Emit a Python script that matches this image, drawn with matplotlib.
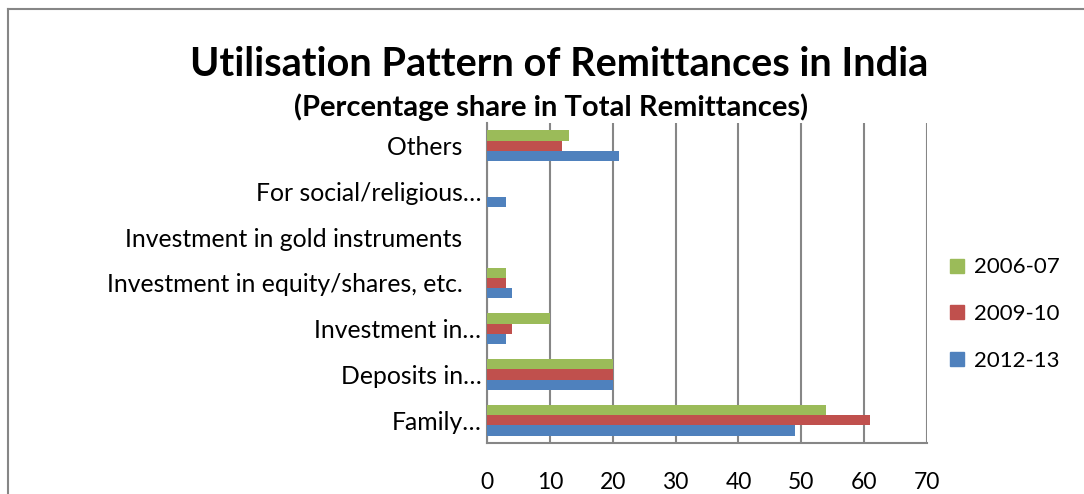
import matplotlib
matplotlib.use("Agg")
import matplotlib.pyplot as plt
import numpy as np
from matplotlib.lines import Line2D

plt.rcParams['font.family'] = ['Lato', 'DejaVu Sans']

categories = [
    "Family…",
    "Deposits in…",
    "Investment in…",
    "Investment in equity/shares, etc.   ",
    "Investment in gold instruments   ",
    "For social/religious…",
    "Others   ",
]
series_names = ["2012-13", "2009-10", "2006-07"]
values_2012_13 = [49, 20, 3, 4, 0, 3, 21]
values_2009_10 = [61, 20, 4, 3, 0, 0, 12]
values_2006_07 = [54, 20, 10, 3, 0, 0, 13]
x_ticks = [0, 10, 20, 30, 40, 50, 60, 70]

colors = {"2012-13": "#4F81BD", "2009-10": "#C0504D", "2006-07": "#9BBB59"}
grid_color = "#868686"

fig = plt.figure(figsize=(10.84, 4.94), dpi=100)
W, H = 1084, 494
ax = fig.add_axes([487 / W, 1 - 443 / H, (927 - 487) / W, (443 - 123) / H])

y = np.arange(len(categories))
bh = 0.225
ax.barh(y - bh, values_2012_13, height=bh, color=colors["2012-13"], label="2012-13", zorder=3)
ax.barh(y, values_2009_10, height=bh, color=colors["2009-10"], label="2009-10", zorder=3)
ax.barh(y + bh, values_2006_07, height=bh, color=colors["2006-07"], label="2006-07", zorder=3)

ax.set_xlim(0, 70)
ax.set_ylim(-0.5, len(categories) - 0.5)
ax.set_xticks(x_ticks)
ax.set_xticklabels([str(t) for t in x_ticks], fontsize=16.5)
ax.set_yticks(y)
ax.set_yticklabels(categories, fontsize=17.8)
ax.tick_params(axis='x', length=0, pad=21)
ax.tick_params(axis='y', length=0, pad=4)
ax.xaxis.grid(True, color=grid_color, linewidth=1.5, zorder=0)
for side in ("top", "right"):
    ax.spines[side].set_visible(False)
for side in ("left", "bottom"):
    ax.spines[side].set_color(grid_color)
    ax.spines[side].set_linewidth(1.5)

fig.text(559 / W, 1 - 64 / H, "Utilisation Pattern of Remittances in India",
         ha="center", va="center", fontsize=28.5, fontweight="bold")
fig.text(551 / W, 1 - 107 / H, "(Percentage share in Total Remittances)",
         ha="center", va="center", fontsize=21, fontweight="bold")

handles = [Line2D([], [], marker="s", linestyle="none", markersize=10.5,
                  markerfacecolor=colors[n], markeredgecolor=colors[n]) for n in ["2006-07", "2009-10", "2012-13"]]
fig.legend(handles, ["2006-07", "2009-10", "2012-13"], loc="center left",
           bbox_to_anchor=(928 / W, 1 - 314 / H), frameon=False, fontsize=16,
           handlelength=0.8, handletextpad=0.35, labelspacing=1.2)

# chart frame edges
fig.add_artist(Line2D([8 / W, 8 / W], [0, 1 - 9 / H], color=grid_color, linewidth=1.5))
fig.add_artist(Line2D([8 / W, 1], [1 - 9 / H, 1 - 9 / H], color=grid_color, linewidth=1.5))

fig.savefig("out.png", dpi=100)
